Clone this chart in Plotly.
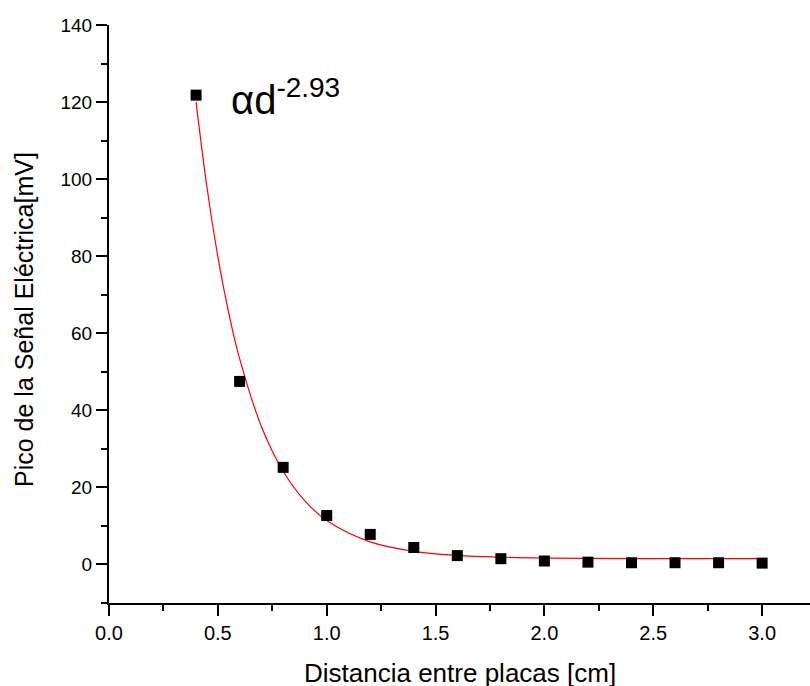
import plotly.graph_objects as go

# measured data
dist_cm = [0.4, 0.6, 0.8, 1.0, 1.2, 1.4, 1.6, 1.8, 2.0, 2.2, 2.4, 2.6, 2.8, 3.0]
peak_mV = [121.8, 47.5, 25.2, 12.7, 7.8, 4.4, 2.3, 1.5, 0.9, 0.6, 0.45, 0.45, 0.45, 0.35]

# fitted curve
fit_x = [0.4, 0.45, 0.5, 0.55, 0.6, 0.7, 0.8, 0.9, 1.0, 1.2, 1.4, 1.6, 1.8, 2.0, 2.4, 3.0]
fit_y = [120.0, 97.9, 79.9, 65.3, 53.4, 35.8, 24.2, 16.5, 11.4, 5.85, 3.4, 2.34, 1.87, 1.66, 1.53, 1.5]

x_ticks = [0.0, 0.5, 1.0, 1.5, 2.0, 2.5, 3.0]
x_ticklabels = ["0.0", "0.5", "1.0", "1.5", "2.0", "2.5", "3.0"]
y_ticks = [0, 20, 40, 60, 80, 100, 120, 140]

FONT = "Liberation Sans, Arial, sans-serif"

fig = go.Figure()
fig.add_trace(go.Scatter(x=fit_x, y=fit_y, mode="lines",
                         line=dict(color="red", width=1.2, shape="spline"),
                         showlegend=False, hoverinfo="skip"))
fig.add_trace(go.Scatter(x=dist_cm, y=peak_mV, mode="markers",
                         marker=dict(symbol="square", size=11, color="black"),
                         showlegend=False))

fig.update_layout(
    width=810, height=686,
    margin=dict(l=109, r=0, t=25, b=83),
    paper_bgcolor="white", plot_bgcolor="white",
    font=dict(family=FONT, color="black"),
    xaxis=dict(range=[0, 3.22], tickvals=x_ticks, ticktext=x_ticklabels,
               showgrid=False, zeroline=False, showline=True, linecolor="black", linewidth=2,
               ticks="outside", ticklen=11, tickwidth=2, tickcolor="black",
               tickfont=dict(size=20, family=FONT),
               minor=dict(dtick=0.25, tick0=0, ticks="outside", ticklen=6, tickwidth=2, tickcolor="black"),
               anchor="y"),
    yaxis=dict(range=[-10, 140], tickvals=y_ticks,
               showgrid=False, zeroline=False, showline=True, linecolor="black", linewidth=2,
               ticks="outside", ticklen=11, tickwidth=2, tickcolor="black",
               tickfont=dict(size=19, family=FONT),
               minor=dict(dtick=10, tick0=0, ticks="outside", ticklen=6, tickwidth=2, tickcolor="black"),
               anchor="x"),
)

fig.add_annotation(text="Distancia entre placas [cm]", xref="paper", yref="paper",
                   x=0.5, y=-0.121, xanchor="center", yanchor="middle", showarrow=False,
                   font=dict(size=26, family=FONT))
fig.add_annotation(text="Pico de la Señal Eléctrica[mV]", xref="paper", yref="paper",
                   x=-0.121, y=0.49, xanchor="center", yanchor="middle", showarrow=False,
                   textangle=-90, font=dict(size=25, family=FONT))
fig.add_annotation(text="αd<sup>-2.93</sup>", xref="x", yref="y",
                   x=0.55, y=121.3, xanchor="left", yanchor="middle", showarrow=False,
                   font=dict(size=40, family=FONT))

fig.write_html("out.html")
